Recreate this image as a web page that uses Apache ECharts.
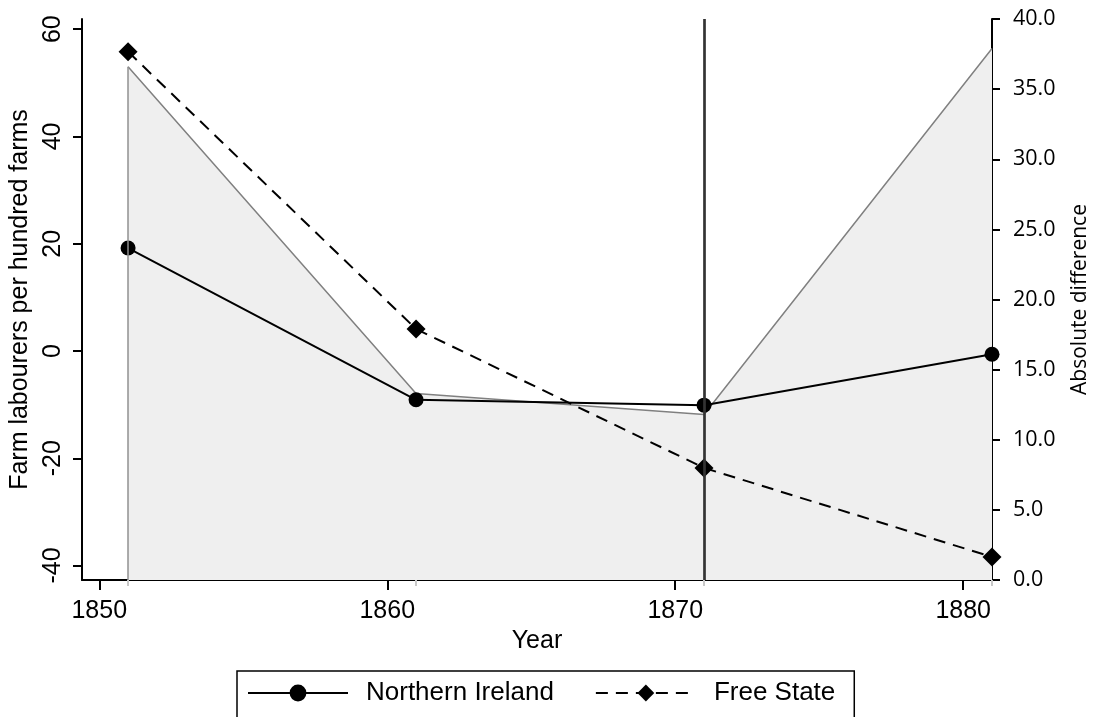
<!DOCTYPE html>
<html>
<head>
<meta charset="utf-8">
<script src="https://cdn.jsdelivr.net/npm/echarts@6/dist/echarts.min.js"></script>
<style>
html,body{margin:0;padding:0;background:#fff;}
#chart{width:1102px;height:717px;}
</style>
</head>
<body>
<div id="chart"></div>
<script>
// ---- data ----
var years = [1851, 1861, 1871, 1881];
var northernIreland = [19.2, -9.1, -10.1, -0.6];
var freeState = [55.8, 4.1, -21.8, -38.4];
var absDiff = [36.6, 13.3, 11.8, 37.9];
var xTickLabels = [1850, 1860, 1870, 1880];
var leftTicks = [-40, -20, 0, 20, 40, 60];
var markerYear = 1871;

function pairs(xs, ys) { return xs.map(function (x, i) { return [x, ys[i]]; }); }

var FONT = 'Liberation Sans';
var chart = echarts.init(document.getElementById('chart'), null, { renderer: 'canvas' });
chart.setOption({
  animation: false,
  backgroundColor: '#ffffff',
  grid: { left: 82, right: 110, top: 19, bottom: 137, containLabel: false, outerBoundsMode: 'none' },
  xAxis: [{
    type: 'value', min: 1849.4, max: 1881,
    name: 'Year', nameLocation: 'middle', nameGap: 45,
    nameTextStyle: { fontFamily: FONT, fontSize: 25, color: '#000' },
    axisLine: { show: true, onZero: false, lineStyle: { color: '#000', width: 2 } },
    axisTick: { show: true, length: 10, lineStyle: { color: '#000', width: 2 }, customValues: xTickLabels },
    axisLabel: { fontFamily: FONT, fontSize: 25, color: '#000', margin: 19, customValues: xTickLabels,
      formatter: function (v) { return String(v); } },
    splitLine: { show: false }
  }, {
    type: 'value', min: 1849.4, max: 1881, position: 'bottom',
    axisLine: { show: false, onZero: false },
    axisTick: { show: true, length: 6, lineStyle: { color: '#c8c8c8', width: 2 }, customValues: years },
    axisLabel: { show: false },
    splitLine: { show: false }
  }],
  yAxis: [{
    type: 'value', min: -42.7, max: 61.9, position: 'left',
    name: 'Farm labourers per hundred farms', nameLocation: 'middle', nameGap: 44,
    nameTextStyle: { fontFamily: FONT, fontSize: 25, color: '#000' },
    axisLine: { show: true, onZero: false, lineStyle: { color: '#000', width: 2 } },
    axisTick: { show: true, length: 9, lineStyle: { color: '#000', width: 2 }, customValues: leftTicks },
    axisLabel: { rotate: 90, fontFamily: FONT, fontSize: 25, color: '#000', margin: 16, customValues: leftTicks },
    splitLine: { show: false }
  }, {
    type: 'value', min: 0, max: 40, interval: 5, position: 'right',
    name: 'Absolute difference', nameLocation: 'middle', nameGap: 78, nameRotate: 90,
    nameTextStyle: { fontFamily: 'Open Sans', fontSize: 21, color: '#000' },
    axisLine: { show: true, onZero: false, lineStyle: { color: '#000', width: 2 } },
    axisTick: { show: true, length: 8, lineStyle: { color: '#000', width: 2 } },
    axisLabel: { fontFamily: 'Open Sans', fontSize: 21.5, color: '#000', margin: 21,
      formatter: function (v) { return v.toFixed(1); } },
    splitLine: { show: false }
  }],
  legend: {
    top: 671, left: 237,
    orient: 'horizontal',
    borderColor: '#000', borderWidth: 1.5,
    padding: [7, 19, 40, 10],
    itemWidth: 100, itemHeight: 21, itemGap: 41,
    textStyle: { fontFamily: FONT, fontSize: 26, color: '#000', lineHeight: 30, padding: [0, 0, 0, 13] },
    data: ['Northern Ireland', 'Free State']
  },
  series: [{
    name: 'Absolute difference',
    type: 'line',
    xAxisIndex: 0, yAxisIndex: 1,
    data: pairs(years, absDiff),
    symbol: 'none',
    z: 1,
    lineStyle: { color: '#808080', width: 1.5 },
    areaStyle: { color: '#efefef', opacity: 1 },
    markLine: {
      silent: true, symbol: 'none', animation: false,
      label: { show: false },
      data: [
        [{ coord: [years[0], 0], lineStyle: { color: '#909090', width: 1.5, type: 'solid' } },
         { coord: [years[0], absDiff[0]] }],
        { xAxis: markerYear, lineStyle: { color: '#333333', width: 2.7, type: 'solid' } }
      ]
    }
  }, {
    name: 'Northern Ireland',
    type: 'line',
    xAxisIndex: 0, yAxisIndex: 0,
    data: pairs(years, northernIreland),
    symbol: 'circle', symbolSize: 15,
    z: 3,
    itemStyle: { color: '#000' },
    lineStyle: { color: '#000', width: 2 }
  }, {
    name: 'Free State',
    type: 'line',
    xAxisIndex: 0, yAxisIndex: 0,
    data: pairs(years, freeState),
    symbol: 'diamond', symbolSize: [19, 19],
    z: 3,
    itemStyle: { color: '#000' },
    lineStyle: { color: '#000', width: 2, type: [12, 8] }
  }]
});
</script>
</body>
</html>
